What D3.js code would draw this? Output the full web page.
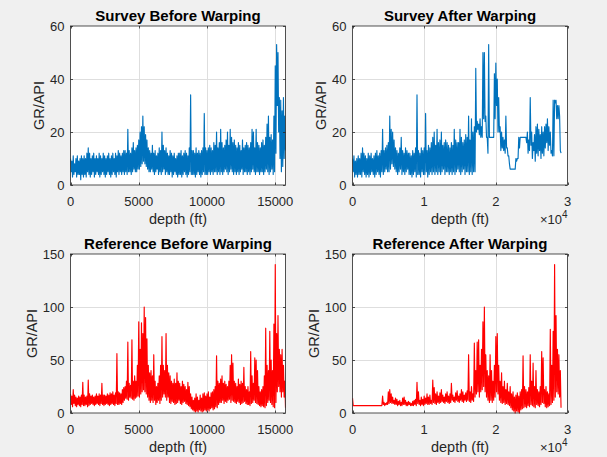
<!DOCTYPE html>
<html>
<head>
<meta charset="utf-8">
<script src="https://cdn.jsdelivr.net/npm/d3@7"></script>
<style>
  html, body { margin: 0; padding: 0; background: #f0f0f0; }
  svg { display: block; }
  text { font-family: "Liberation Sans", Arial, Helvetica, sans-serif; }
</style>
</head>
<body>
<svg id="fig" width="607" height="457"></svg>
<script>
// Gamma-ray logs (GR, API units), decimated to a max / min pair per depth bin.

// Survey well, before warping: 100 ft bins from 0 ft
const surveyBeforeStep = 100;
const surveyBeforeMax = [
  10,9,11,8,10,11,9,10,11,10,
  11,10,12,14,12,10,11,12,10,11,
  10,12,11,10,12,11,10,11,12,10,
  11,12,10,12,11,13,12,11,12,13,
  13,12,21,13,12,14,16,13,14,15,
  17,20,22,26,22,19,17,14,13,12,
  15,12,13,11,12,14,13,20,15,13,
  14,12,11,13,12,11,12,10,11,12,
  12,13,11,12,13,12,11,14,34,13,
  13,12,14,12,13,12,13,14,27,14,
  13,14,15,14,13,16,15,20,14,16,
  21,16,14,15,17,20,15,21,18,16,
  17,15,14,16,15,13,17,14,15,16,
  15,14,16,21,20,14,21,16,15,14,
  16,17,15,18,23,26,18,19,17,26,
  45,53,50,33,32,28,33,26
];
const surveyBeforeMin = [
  5,3,4,5,3,4,4,2,4,3,
  4,3,5,4,3,4,5,3,4,5,
  4,3,4,5,4,3,4,5,4,3,
  4,5,4,3,5,4,5,4,5,4,
  5,4,5,5,4,5,6,5,5,6,
  6,7,8,9,8,7,6,5,5,6,
  5,4,5,6,4,5,4,5,6,4,
  5,4,4,5,3,4,5,4,3,4,
  4,3,4,5,4,3,4,5,4,4,
  4,3,4,5,4,3,4,5,4,4,
  4,5,4,5,4,5,5,4,5,4,
  5,4,5,6,5,4,5,6,5,4,
  5,4,5,4,5,6,4,5,5,4,
  5,4,5,6,5,4,5,5,4,5,
  5,4,5,6,5,4,5,6,4,5,
  12,30,20,10,5,7,10,13
];

// Survey well, after warping: 200 ft bins from 0 ft
const surveyAfterStep = 200;
const surveyAfterMax = [
  10,11,9,10,11,10,12,14,12,11,
  10,12,11,12,10,11,12,13,11,12,
  13,21,13,14,15,16,26,21,20,17,
  14,13,12,14,18,13,12,14,13,12,
  12,11,13,12,14,34,13,12,14,13,
  14,27,13,15,14,16,18,20,15,21,
  16,17,20,15,16,17,16,15,14,16,
  15,21,17,16,16,21,18,16,17,19,
  18,26,17,25,20,22,44,24,23,25,
  22,50,50,26,18,53,18,18,18,42,
  46,40,33,22,20,18,17,26,14,11,
  6,6,6,6,10,10,18,18,18,18,
  18,18,20,17,33,20,16,19,22,23,
  21,19,22,20,22,23,25,22,20,13,
  32,32,32,30,30,13
];
const surveyAfterMin = [
  5,3,4,3,4,4,3,5,4,3,
  4,3,4,5,4,3,4,5,4,3,
  5,4,5,6,5,5,6,8,7,6,
  5,4,5,6,4,5,4,5,6,4,
  4,3,4,5,3,4,4,3,5,4,
  4,5,3,4,5,4,5,4,5,4,
  5,4,5,6,4,5,5,4,5,4,
  5,4,5,6,5,4,5,6,4,5,
  5,4,5,4,5,5,20,21,19,18,
  18,25,24,18,12,18,18,18,18,25,
  30,20,20,13,14,13,12,14,11,8,
  6,6,6,6,9,10,14,18,18,18,
  18,16,12,13,15,10,13,9,12,11,
  13,10,12,11,14,16,13,15,12,11,
  11,31,25,25,26,12
];

// Reference well, before warping: 100 ft bins from 0 ft
const referenceBeforeStep = 100;
const referenceBeforeMax = [
  18,16,22,17,15,14,16,15,17,29,
  17,15,16,31,18,16,17,15,16,18,
  16,18,17,28,17,17,16,18,17,19,
  18,20,17,19,56,20,19,18,22,24,
  25,30,67,28,26,69,30,35,30,45,
  86,60,85,75,100,90,70,45,38,40,
  35,55,30,25,28,35,45,72,45,40,
  75,45,38,35,30,28,32,28,38,30,
  28,25,30,27,25,22,29,25,18,15,
  12,14,18,15,12,17,14,18,19,16,
  18,20,15,19,20,22,25,54,30,28,
  32,35,28,30,27,25,30,45,55,47,
  30,28,25,32,27,30,28,43,25,22,
  25,20,58,35,28,52,50,40,25,20,
  22,25,35,80,45,40,77,50,40,84,
  140,75,92,60,55,60,45,30
];
const referenceBeforeMin = [
  8,6,9,7,6,8,7,6,8,7,
  7,8,6,7,8,9,8,7,8,9,
  8,7,9,8,7,8,9,8,7,8,
  9,8,7,9,8,8,9,8,10,12,
  14,13,12,15,14,13,12,14,15,16,
  15,18,20,22,20,18,15,12,10,12,
  10,12,8,10,12,9,12,15,18,15,
  12,15,10,9,11,10,8,9,10,12,
  9,8,10,11,9,8,7,6,4,3,
  2,1,2,1,3,2,1,2,3,2,
  3,2,4,5,3,4,6,5,8,10,
  10,12,9,11,10,12,13,10,12,11,
  10,9,11,10,8,9,10,11,9,8,
  8,7,9,10,12,10,9,8,7,6,
  7,6,5,7,10,12,10,8,6,5,
  10,20,25,20,15,20,15,5
];

// Reference well, after warping: 200 ft bins from 0 ft
const referenceAfterStep = 200;
const referenceAfterMax = [
  14,7,7,7,7,7,7,7,7,7,
  7,7,7,7,7,7,7,7,7,7,
  7,16,10,9,10,20,22,18,15,12,
  14,13,11,12,10,14,15,12,10,11,
  10,9,11,12,13,29,20,12,15,13,
  16,14,18,15,17,12,31,24,18,20,
  16,19,22,17,15,18,20,16,18,28,
  17,15,19,21,16,18,22,20,17,19,
  21,55,20,25,18,66,40,67,69,45,
  60,86,100,55,40,35,55,40,30,45,
  72,75,45,30,38,25,30,22,28,20,
  25,18,20,15,17,19,16,20,22,54,
  25,22,20,24,55,30,47,25,40,22,
  20,25,58,52,22,25,20,18,79,45,
  77,140,92,60,55,40
];
const referenceAfterMin = [
  7,7,7,7,7,7,7,7,7,7,
  7,7,7,7,7,7,7,7,7,7,
  7,8,7,8,8,9,10,9,9,8,
  8,7,8,7,7,8,8,7,7,8,
  7,7,7,8,7,9,8,7,8,7,
  8,9,8,8,9,8,10,9,8,10,
  9,10,11,10,9,11,10,9,10,12,
  11,10,12,11,10,12,11,10,12,11,
  12,11,10,12,11,15,18,20,15,20,
  22,25,20,15,12,10,12,10,12,15,
  20,18,12,10,9,10,8,9,8,7,
  5,3,2,0,2,1,0,3,4,5,
  6,5,7,6,8,7,6,5,8,7,
  6,8,10,9,6,5,6,7,8,10,
  12,15,20,18,15,5
];

// Axis ticks
const beforeDepthTicks = [0, 5000, 10000, 15000];
const beforeDepthTickLabels = ["0", "5000", "10000", "15000"];
const afterDepthTicks = [0, 10000, 20000, 30000];
const afterDepthTickLabels = ["0", "1", "2", "3"];
const surveyGrTicks = [0, 20, 40, 60];
const referenceGrTicks = [0, 50, 100, 150];

const titles = ["Survey Before Warping", "Survey After Warping",
                "Reference Before Warping", "Reference After Warping"];

// Figure layout
const AX_W = 215, AX_H = 159;
const surveyColor = "#0072BD", referenceColor = "#FF0000";
const boxColor = "#262626", gridColor = "#dedede", textColor = "#262626";

const panels = [
  { title: titles[0], maxs: surveyBeforeMax, mins: surveyBeforeMin, step: surveyBeforeStep,
    xMax: 15750, xTicks: beforeDepthTicks, xLabels: beforeDepthTickLabels, exponent: false,
    yMax: 60, yTicks: surveyGrTicks, color: surveyColor, left: 70.5, top: 26 },
  { title: titles[1], maxs: surveyAfterMax, mins: surveyAfterMin, step: surveyAfterStep,
    xMax: 30000, xTicks: afterDepthTicks, xLabels: afterDepthTickLabels, exponent: true,
    yMax: 60, yTicks: surveyGrTicks, color: surveyColor, left: 352.5, top: 26 },
  { title: titles[2], maxs: referenceBeforeMax, mins: referenceBeforeMin, step: referenceBeforeStep,
    xMax: 15750, xTicks: beforeDepthTicks, xLabels: beforeDepthTickLabels, exponent: false,
    yMax: 150, yTicks: referenceGrTicks, color: referenceColor, left: 70.5, top: 254 },
  { title: titles[3], maxs: referenceAfterMax, mins: referenceAfterMin, step: referenceAfterStep,
    xMax: 30000, xTicks: afterDepthTicks, xLabels: afterDepthTickLabels, exponent: true,
    yMax: 150, yTicks: referenceGrTicks, color: referenceColor, left: 352.5, top: 254 }
];

const svg = d3.select("#fig");

panels.forEach((p, idx) => {
  const x = d3.scaleLinear().domain([0, p.xMax]).range([p.left, p.left + AX_W]);
  const y = d3.scaleLinear().domain([0, p.yMax]).range([p.top + AX_H, p.top]);
  const g = svg.append("g");

  // axes background
  g.append("rect")
    .attr("x", p.left).attr("y", p.top)
    .attr("width", AX_W).attr("height", AX_H)
    .attr("fill", "#ffffff");

  // grid
  g.selectAll(null).data(p.xTicks.filter(t => t > 0 && t < p.xMax)).join("line")
    .attr("x1", d => Math.round(x(d)) + 0.5).attr("x2", d => Math.round(x(d)) + 0.5)
    .attr("y1", p.top).attr("y2", p.top + AX_H)
    .attr("stroke", gridColor).attr("stroke-width", 1);
  g.selectAll(null).data(p.yTicks.filter(t => t > 0 && t < p.yMax)).join("line")
    .attr("y1", d => Math.round(y(d)) + 0.5).attr("y2", d => Math.round(y(d)) + 0.5)
    .attr("x1", p.left).attr("x2", p.left + AX_W)
    .attr("stroke", gridColor).attr("stroke-width", 1);

  // data: max then min inside each depth bin
  const pts = [];
  p.maxs.forEach((v, i) => {
    pts.push([i * p.step, v]);
    pts.push([(i + 0.5) * p.step, p.mins[i]]);
  });
  const clipId = "clip" + idx;
  g.append("clipPath").attr("id", clipId)
    .append("rect").attr("x", p.left).attr("y", p.top - 1)
    .attr("width", AX_W).attr("height", AX_H + 2);
  g.append("path")
    .attr("clip-path", `url(#${clipId})`)
    .attr("d", d3.line().x(d => x(d[0])).y(d => y(d[1]))(pts))
    .attr("fill", "none")
    .attr("stroke", p.color)
    .attr("stroke-width", 1.15)
    .attr("stroke-linejoin", "round");

  // box
  g.append("rect")
    .attr("x", p.left).attr("y", p.top)
    .attr("width", AX_W).attr("height", AX_H)
    .attr("fill", "none").attr("stroke", boxColor).attr("stroke-width", 0.8);

  // inward tick marks on all four sides
  const tl = 2.5;
  p.xTicks.forEach(t => {
    const xx = Math.round(x(t)) + 0.5;
    g.append("line").attr("x1", xx).attr("x2", xx)
      .attr("y1", p.top + AX_H).attr("y2", p.top + AX_H - tl)
      .attr("stroke", boxColor).attr("stroke-width", 0.8);
    g.append("line").attr("x1", xx).attr("x2", xx)
      .attr("y1", p.top).attr("y2", p.top + tl)
      .attr("stroke", boxColor).attr("stroke-width", 0.8);
  });
  p.yTicks.forEach(t => {
    const yy = Math.round(y(t)) + 0.5;
    g.append("line").attr("y1", yy).attr("y2", yy)
      .attr("x1", p.left).attr("x2", p.left + tl)
      .attr("stroke", boxColor).attr("stroke-width", 0.8);
    g.append("line").attr("y1", yy).attr("y2", yy)
      .attr("x1", p.left + AX_W).attr("x2", p.left + AX_W - tl)
      .attr("stroke", boxColor).attr("stroke-width", 0.8);
  });

  // tick labels
  g.selectAll(null).data(p.xTicks).join("text")
    .attr("x", d => x(d)).attr("y", p.top + AX_H + 20.5)
    .attr("text-anchor", "middle")
    .attr("font-size", 13).attr("fill", textColor)
    .text((d, i) => p.xLabels[i]);
  const yLabels = g.selectAll(null).data(p.yTicks).join("text")
    .attr("x", p.left - 6).attr("y", d => y(d))
    .attr("dy", "0.36em")
    .attr("text-anchor", "end")
    .attr("font-size", 13).attr("fill", textColor)
    .text(d => d);
  let maxW = 0;
  yLabels.each(function () { maxW = Math.max(maxW, this.getComputedTextLength()); });

  // exponent marker for the x axis
  if (p.exponent) {
    const t = g.append("text")
      .attr("x", p.left + AX_W).attr("y", p.top + AX_H + 38.5)
      .attr("text-anchor", "end")
      .attr("fill", textColor).attr("font-size", 13);
    t.append("tspan").text("\u00d710");
    t.append("tspan").attr("font-size", 10).attr("dy", -5.5).text("4");
  }

  // axis labels
  const cx = p.left + AX_W / 2, cy = p.top + AX_H / 2;
  g.append("text")
    .attr("x", cx).attr("y", p.top + AX_H + 39)
    .attr("text-anchor", "middle")
    .attr("font-size", 14.5).attr("fill", textColor)
    .text("depth (ft)");
  g.append("text")
    .attr("transform", `translate(${p.left - maxW - 12},${cy}) rotate(-90)`)
    .attr("text-anchor", "middle")
    .attr("font-size", 14.5).attr("fill", textColor)
    .text("GR/API");

  // title
  g.append("text")
    .attr("x", cx).attr("y", p.top - 5.5)
    .attr("text-anchor", "middle")
    .attr("font-size", 15).attr("font-weight", "bold").attr("fill", "#000")
    .text(p.title);
});
</script>
</body>
</html>
